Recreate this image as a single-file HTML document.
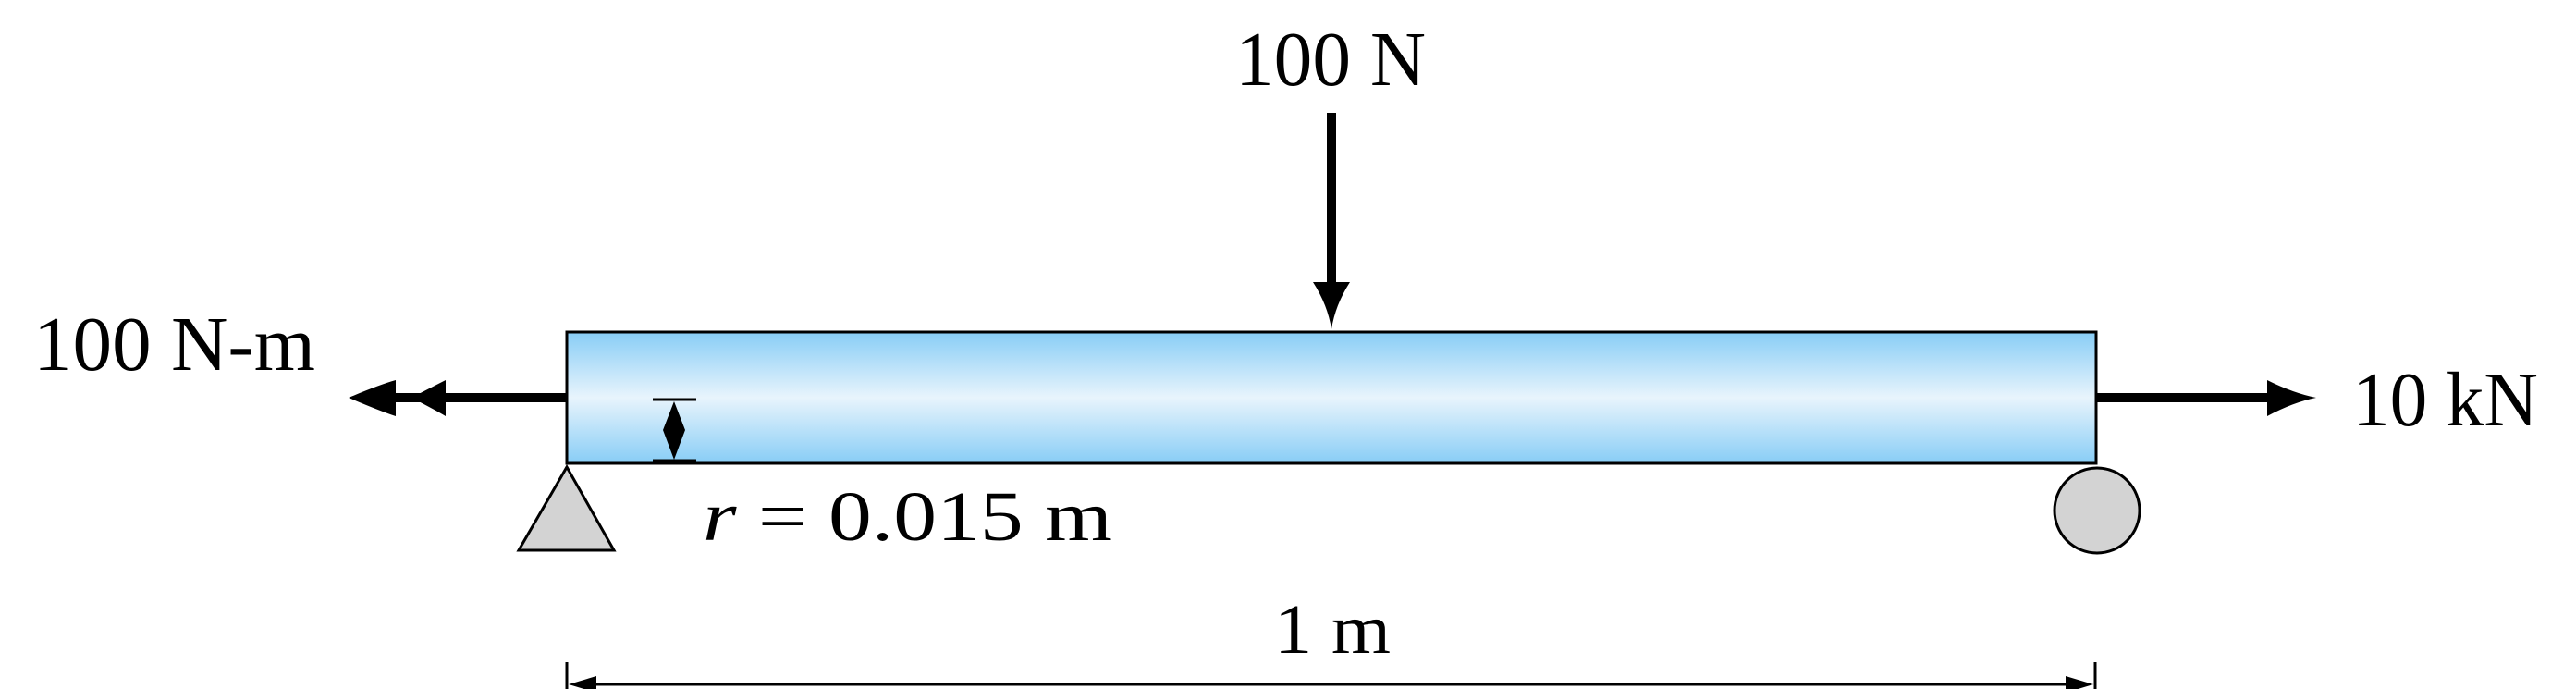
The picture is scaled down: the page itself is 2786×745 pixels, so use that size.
<!DOCTYPE html>
<html><head><meta charset="utf-8"><style>
html,body{margin:0;padding:0;background:#fff;}
svg{display:block;}
text{font-family:"Liberation Serif",serif;fill:#000;}
</style></head><body>
<svg width="2786" height="745" viewBox="0 0 2786 745">
<defs>
<linearGradient id="g" x1="0" y1="0" x2="0" y2="1">
<stop offset="0" stop-color="#88cdf6"/>
<stop offset="0.5" stop-color="#e8f4fc"/>
<stop offset="1" stop-color="#88cdf6"/>
</linearGradient>
</defs>
<rect x="613" y="359" width="1654" height="142" fill="url(#g)" stroke="#000" stroke-width="3"/>
<g>
<line x1="1440" y1="122" x2="1440" y2="310" stroke="#000" stroke-width="10"/>
<path d="M1420 305 L1460 305 Q1444 330 1440 356 Q1436 330 1420 305 Z" fill="#000"/>
</g>
<text x="1336" y="92" font-size="84" textLength="206" lengthAdjust="spacingAndGlyphs">100 N</text>
<g>
<line x1="613" y1="430" x2="420" y2="430" stroke="#000" stroke-width="10"/>
<path d="M377 430 Q410 416 428 411 L428 450 Q410 444 377 430 Z" fill="#000"/>
<path d="M445 430 Q472 416 482 411 L482 450 Q472 444 445 430 Z" fill="#000"/>
</g>
<text x="36" y="400" font-size="84" textLength="305" lengthAdjust="spacingAndGlyphs">100 N-m</text>
<g>
<line x1="2267" y1="430" x2="2460" y2="430" stroke="#000" stroke-width="10"/>
<path d="M2452 411 Q2480 425 2505 430 Q2480 435 2452 450 Z" fill="#000"/>
</g>
<text x="2544" y="460" font-size="84" textLength="201" lengthAdjust="spacingAndGlyphs">10 kN</text>
<polygon points="613,505 664,595 561,595" fill="#d3d3d3" stroke="#000" stroke-width="3"/>
<circle cx="2268" cy="552" r="46" fill="#d3d3d3" stroke="#000" stroke-width="3"/>
<g>
<line x1="706" y1="432" x2="753" y2="432" stroke="#000" stroke-width="3"/>
<line x1="706" y1="498" x2="753" y2="498" stroke="#000" stroke-width="3"/>
<path d="M729 434 L741 465 L729 497 L717 465 Z" fill="#000"/>
</g>
<text x="760" y="584" font-size="76" textLength="443" lengthAdjust="spacingAndGlyphs"><tspan font-style="italic">r</tspan> = 0.015 m</text>
<g>
<line x1="613" y1="716" x2="613" y2="745" stroke="#000" stroke-width="3"/>
<line x1="2266" y1="716" x2="2266" y2="745" stroke="#000" stroke-width="3"/>
<line x1="630" y1="740" x2="2250" y2="740" stroke="#000" stroke-width="3"/>
<path d="M615 740 L645 731 L645 749 Z" fill="#000"/>
<path d="M2264 740 L2234 731 L2234 749 Z" fill="#000"/>
</g>
<text x="1378" y="706" font-size="76" textLength="126" lengthAdjust="spacingAndGlyphs">1 m</text>
</svg>
</body></html>
